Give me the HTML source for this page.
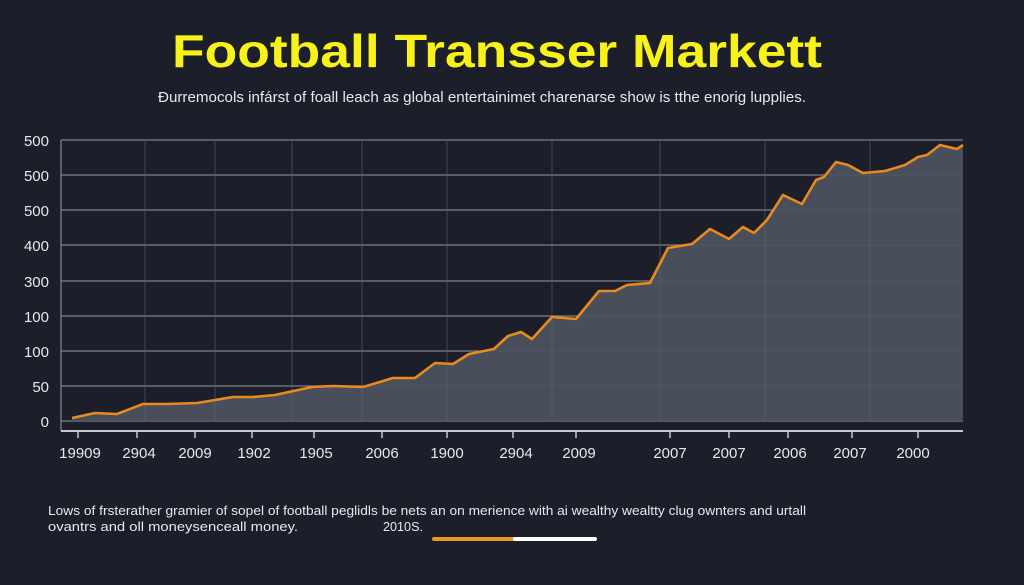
<!DOCTYPE html>
<html><head><meta charset="utf-8"><style>
html,body{margin:0;padding:0;background:#1c1f2a;}
svg{display:block;}
</style></head><body>
<svg width="1024" height="585" viewBox="0 0 1024 585" xmlns="http://www.w3.org/2000/svg" font-family="Liberation Sans, sans-serif">
<rect width="1024" height="585" fill="#1c1f2a"/>
<text x="172" y="67" font-size="46" font-weight="bold" fill="#f7f21a" textLength="650" lengthAdjust="spacingAndGlyphs">Football Transser Markett</text>
<text x="158" y="102" font-size="15" fill="#e8e8ec" textLength="648" lengthAdjust="spacingAndGlyphs">Ðurremocols infárst of foall leach as global entertainimet charenarse show is tthe enorig lupplies.</text>
<g stroke="#7c808c" stroke-width="1.3">
<line x1="61" y1="140" x2="963" y2="140"/><line x1="61" y1="175" x2="963" y2="175"/>
<line x1="61" y1="210" x2="963" y2="210"/><line x1="61" y1="245" x2="963" y2="245"/>
<line x1="61" y1="281" x2="963" y2="281"/><line x1="61" y1="316" x2="963" y2="316"/>
<line x1="61" y1="351" x2="963" y2="351"/><line x1="61" y1="386" x2="963" y2="386"/>
<line x1="61" y1="421" x2="963" y2="421"/>
<line x1="61" y1="140" x2="61" y2="431"/>
</g>
<polygon fill="#4c515e" fill-opacity="0.95" points="72,421 72,418 95,413 117,414 143,404 167,404 197,403 233,397 253,397 275,395 312,387 333,386 363,387 393,378 415,378 435,363 453,364 469,354 494,349 508,336 521,332 532,339 552,317 576,319 599,291 615,291 627,285 650,283 668,248 692,244 710,229 729,239 743,227 754,233 767,220 783,195 802,204 816,180 824,177 836,162 848,165 863,173 885,171 905,165 918,157 927,155 940,145 957,149 963,145 963,421"/>
<g stroke="#5e6370" stroke-width="1" opacity="0.6">
<line x1="145" y1="140" x2="145" y2="421"/><line x1="215" y1="140" x2="215" y2="421"/><line x1="292" y1="140" x2="292" y2="421"/><line x1="362" y1="140" x2="362" y2="421"/><line x1="447" y1="140" x2="447" y2="421"/><line x1="552" y1="140" x2="552" y2="421"/><line x1="660" y1="140" x2="660" y2="421"/><line x1="765" y1="140" x2="765" y2="421"/><line x1="870" y1="140" x2="870" y2="421"/>
</g>
<polyline fill="none" stroke="#e88a1e" stroke-width="2.6" stroke-linejoin="round" points="72,418 95,413 117,414 143,404 167,404 197,403 233,397 253,397 275,395 312,387 333,386 363,387 393,378 415,378 435,363 453,364 469,354 494,349 508,336 521,332 532,339 552,317 576,319 599,291 615,291 627,285 650,283 668,248 692,244 710,229 729,239 743,227 754,233 767,220 783,195 802,204 816,180 824,177 836,162 848,165 863,173 885,171 905,165 918,157 927,155 940,145 957,149 963,145"/>
<line x1="61" y1="431" x2="963" y2="431" stroke="#c8cad0" stroke-width="2"/>
<g stroke="#c8cad0" stroke-width="1.5">
<line x1="78" y1="431" x2="78" y2="438"/><line x1="137" y1="431" x2="137" y2="438"/><line x1="195" y1="431" x2="195" y2="438"/><line x1="252" y1="431" x2="252" y2="438"/><line x1="314" y1="431" x2="314" y2="438"/><line x1="382" y1="431" x2="382" y2="438"/><line x1="447" y1="431" x2="447" y2="438"/><line x1="513" y1="431" x2="513" y2="438"/><line x1="576" y1="431" x2="576" y2="438"/><line x1="670" y1="431" x2="670" y2="438"/><line x1="729" y1="431" x2="729" y2="438"/><line x1="788" y1="431" x2="788" y2="438"/><line x1="852" y1="431" x2="852" y2="438"/><line x1="918" y1="431" x2="918" y2="438"/>
</g>
<g font-size="15" fill="#e8e8ec" text-anchor="end">
<text x="49" y="146">500</text><text x="49" y="181">500</text><text x="49" y="216">500</text><text x="49" y="251">400</text><text x="49" y="287">300</text><text x="49" y="322">100</text><text x="49" y="357">100</text><text x="49" y="392">50</text><text x="49" y="427">0</text>
</g>
<g font-size="15" fill="#e8e8ec" text-anchor="middle">
<text x="80" y="458">19909</text><text x="139" y="458">2904</text><text x="195" y="458">2009</text><text x="254" y="458">1902</text><text x="316" y="458">1905</text><text x="382" y="458">2006</text><text x="447" y="458">1900</text><text x="516" y="458">2904</text><text x="579" y="458">2009</text><text x="670" y="458">2007</text><text x="729" y="458">2007</text><text x="790" y="458">2006</text><text x="850" y="458">2007</text><text x="913" y="458">2000</text>
</g>
<text x="48" y="515" font-size="13" fill="#e8e8ec" textLength="758" lengthAdjust="spacingAndGlyphs">Lows of frsterather gramier of sopel of football peglidls be nets an on merience with ai wealthy wealtty clug ownters and urtall</text>
<text x="48" y="531" font-size="13" fill="#e8e8ec" textLength="250" lengthAdjust="spacingAndGlyphs">ovantrs and oll moneysenceall money.</text>
<text x="383" y="531" font-size="13" fill="#e8e8ec" textLength="40" lengthAdjust="spacingAndGlyphs">2010S.</text>
<line x1="434" y1="539" x2="515" y2="539" stroke="#e89a1e" stroke-width="4" stroke-linecap="round"/>
<line x1="515" y1="539" x2="595" y2="539" stroke="#ffffff" stroke-width="4" stroke-linecap="round"/>
</svg>
</body></html>
